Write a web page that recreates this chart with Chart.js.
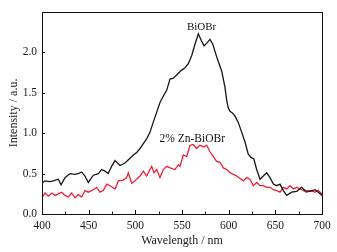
<!DOCTYPE html>
<html>
<head>
<meta charset="utf-8">
<script src="https://cdn.jsdelivr.net/npm/chart.js@4.4.0/dist/chart.umd.min.js"></script>
<style>
html,body{margin:0;padding:0;background:#fff;}
#c{display:block;}
</style>
</head>
<body>
<canvas id="c" width="337" height="252"></canvas>
<script>
// ---- data ----
const seriesNames = ["BiOBr", "2% Zn-BiOBr"];
const xTickValues = [400, 450, 500, 550, 600, 650, 700];
const yTickValues = [0.0, 0.5, 1.0, 1.5, 2.0];

const wavelengthBiOBr = [400,403.2,408.6,412.1,417.5,420.4,424.6,430,435.4,438.9,442.5,446,449.6,455,460.4,463.9,467.5,471,474.6,478.2,483.6,488.9,494.3,497.9,501.4,505,508.6,512.1,515.7,519.3,522.9,526.4,530,533.6,537.1,540.7,544.3,549.6,553.2,556.8,560.4,563.9,567.5,570.5,573.6,577,580,583,587,590,592.5,596,598,599.6,601.4,604,606.8,610.4,614,617.5,621,624,627,630,633.6,637.1,640.7,644.3,647.9,651.4,655,658.6,662.1,667.5,672.9,678.2,681.8,687.1,692.5,696.1,700];
const intensityBiOBr = [0.38,0.41,0.40,0.41,0.43,0.36,0.45,0.50,0.49,0.50,0.52,0.47,0.39,0.48,0.50,0.55,0.53,0.50,0.59,0.66,0.60,0.63,0.69,0.73,0.76,0.81,0.87,0.93,1.01,1.14,1.26,1.38,1.46,1.53,1.67,1.68,1.72,1.78,1.81,1.86,1.96,2.10,2.23,2.15,2.08,2.12,2.16,2.10,1.95,1.85,1.77,1.57,1.40,1.31,1.27,1.25,1.21,1.13,1.01,0.89,0.74,0.70,0.68,0.55,0.43,0.47,0.51,0.45,0.37,0.35,0.37,0.29,0.23,0.27,0.28,0.33,0.29,0.28,0.30,0.27,0.23];

const wavelengthZn = [400,403.2,406.8,410.4,413.9,417.5,421.1,424.6,428.2,431.8,435.4,438.9,442.5,446.1,449.6,455,458.6,462.1,465.7,469.3,472.9,478.2,481.8,487.1,490.7,492.5,496.1,499.6,505,508.6,512.1,517.5,520,522.9,526.4,530,533.6,537.1,542.5,546.1,547.9,551.4,555,558.6,562.1,565.7,569.3,572.9,576.4,580,583.6,587.1,590.7,594.3,597.9,601.4,605,608.6,612.1,615.7,619.3,622.9,626.4,630,633.6,637.1,640.7,644.3,647.9,651.4,655,658.6,662.1,665.7,669.3,672.9,678.2,683.6,687.1,692.5,696.1,700];
const intensityZn = [0.20,0.26,0.22,0.26,0.23,0.25,0.27,0.23,0.21,0.26,0.20,0.24,0.21,0.29,0.27,0.30,0.33,0.27,0.29,0.37,0.35,0.31,0.41,0.42,0.45,0.51,0.38,0.41,0.47,0.53,0.47,0.59,0.51,0.55,0.45,0.55,0.59,0.57,0.55,0.61,0.59,0.73,0.71,0.85,0.86,0.81,0.85,0.83,0.85,0.77,0.71,0.65,0.64,0.57,0.55,0.51,0.49,0.47,0.44,0.41,0.45,0.43,0.35,0.39,0.35,0.35,0.33,0.33,0.30,0.29,0.27,0.33,0.31,0.35,0.31,0.33,0.30,0.27,0.29,0.27,0.29,0.25];

// annotation anchor positions in data units
const labelAnchors = [{x: 571, y: 2.31}, {x: 561, y: 0.93}];

function toPoints(xs, ys){ return xs.map((x,i)=>({x:x, y:ys[i]})); }

const FONT = "'Liberation Serif', 'Times New Roman', serif";

const framePlugin = {
  id: 'frame',
  afterDraw(chart){
    const ctx = chart.ctx, a = chart.chartArea;
    const xs = chart.scales.x, ys = chart.scales.y;
    ctx.save();
    ctx.strokeStyle = '#111';
    ctx.lineWidth = 1;
    ctx.strokeRect(Math.round(a.left)+0.5, Math.round(a.top)+0.5, Math.round(a.right-a.left), Math.round(a.bottom-a.top));
    for (let v = 400; v <= 700; v += 25){
      const px = Math.round(xs.getPixelForValue(v)) + 0.5;
      const len = (v % 50 === 0) ? 4 : 2.5;
      ctx.beginPath();
      ctx.moveTo(px, a.bottom);
      ctx.lineTo(px, a.bottom - len);
      ctx.stroke();
    }
    yTickValues.forEach(v=>{
      const py = Math.round(ys.getPixelForValue(v)) + 0.5;
      ctx.beginPath();
      ctx.moveTo(a.left, py);
      ctx.lineTo(a.left + 3, py);
      ctx.stroke();
    });
    ctx.fillStyle = '#111';
    ctx.textAlign = 'center';
    ctx.textBaseline = 'middle';
    ctx.font = "11px " + FONT;
    ctx.fillText(seriesNames[0], xs.getPixelForValue(labelAnchors[0].x), ys.getPixelForValue(labelAnchors[0].y));
    ctx.font = "11.5px " + FONT;
    ctx.fillText(seriesNames[1], xs.getPixelForValue(labelAnchors[1].x), ys.getPixelForValue(labelAnchors[1].y));
    ctx.restore();
  }
};

new Chart(document.getElementById('c'), {
  type: 'line',
  data: {
    datasets: [
      { label: seriesNames[0], data: toPoints(wavelengthBiOBr, intensityBiOBr), borderColor: '#151515', borderWidth: 1.3, pointRadius: 0, tension: 0, fill: false },
      { label: seriesNames[1], data: toPoints(wavelengthZn, intensityZn), borderColor: '#ee1f35', borderWidth: 1.3, pointRadius: 0, tension: 0, fill: false }
    ]
  },
  options: {
    responsive: false,
    devicePixelRatio: 1,
    animation: false,
    layout: { padding: { top: 6, right: 15, left: 0, bottom: 0 } },
    plugins: { legend: { display: false }, tooltip: { enabled: false } },
    scales: {
      x: {
        type: 'linear', min: 400, max: 700,
        afterBuildTicks(scale){ scale.ticks = xTickValues.map(v=>({value:v})); },
        afterFit(scale){ scale.height = 38; },
        grid: { display: false, drawTicks: false },
        border: { display: false },
        ticks: { padding: 5, color: '#1a1a1a', font: { family: FONT, size: 11.5 }, maxRotation: 0, autoSkip: false },
        title: { display: true, text: 'Wavelength / nm', color: '#1a1a1a', font: { family: FONT, size: 12 }, padding: { top: 0, bottom: 4 } }
      },
      y: {
        min: 0, max: 2.5,
        afterBuildTicks(scale){ scale.ticks = yTickValues.map(v=>({value:v})); },
        afterFit(scale){ scale.width = 42; },
        grid: { display: false, drawTicks: false },
        border: { display: false },
        ticks: { padding: 5, color: '#1a1a1a', font: { family: FONT, size: 11.5 }, callback: v => Number(v).toFixed(1) },
        title: { display: true, text: 'Intensity / a.u.', color: '#1a1a1a', font: { family: FONT, size: 12 }, padding: { top: 7, bottom: 0 } }
      }
    }
  },
  plugins: [framePlugin]
});
</script>
</body>
</html>
